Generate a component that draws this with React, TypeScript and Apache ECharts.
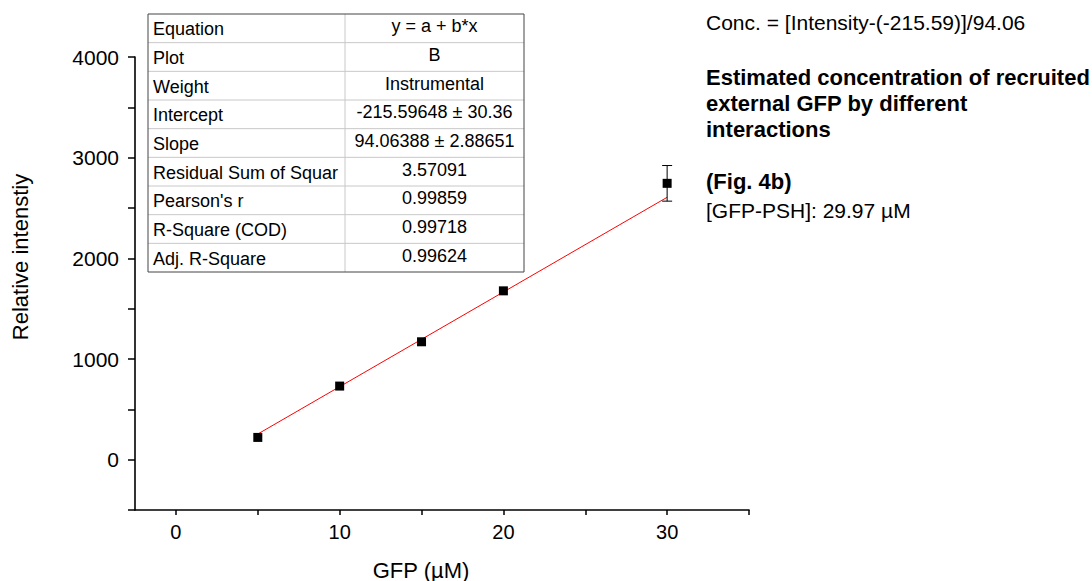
import React, { useEffect, useRef } from "react";
import * as echarts from "echarts";

const gfpConc = [5, 10, 15, 20, 30];
const intensity = [221, 731, 1171, 1677, 2745];
const intensityErr = [0, 0, 0, 0, 177];
const fitLine = [
  [5, 254.7],
  [30, 2606.3],
];
const xLabelValues = [0, 10, 20, 30];
const xTickValues = [0, 5, 10, 15, 20, 25, 30, 35];
const yLabelValues = [0, 1000, 2000, 3000, 4000];
const yTickValues = [-500, 0, 500, 1000, 1500, 2000, 2500, 3000, 3500, 4000];

const tableLabels = [
  "Equation",
  "Plot",
  "Weight",
  "Intercept",
  "Slope",
  "Residual Sum of Squar",
  "Pearson's r",
  "R-Square (COD)",
  "Adj. R-Square",
];
const tableValues = [
  "y = a + b*x",
  "B",
  "Instrumental",
  "-215.59648 ± 30.36",
  "94.06388 ± 2.88651",
  "3.57091",
  "0.99859",
  "0.99718",
  "0.99624",
];

const FONT = "'Liberation Sans', Arial, sans-serif";

export default function App() {
  const ref = useRef<HTMLDivElement>(null);

  useEffect(() => {
    document.body.style.margin = "0";
    if (!ref.current) return;
    const chart = echarts.init(ref.current, null, { renderer: "svg" });

    const tX = 148,
      tY = 14,
      tW = 376,
      tH = 258,
      colX = 345;
    const rowH = tH / tableLabels.length;
    const tableEls: any[] = [];
    for (let i = 1; i < tableLabels.length; i++) {
      tableEls.push({
        type: "line",
        shape: { x1: tX, y1: tY + i * rowH, x2: tX + tW, y2: tY + i * rowH },
        style: { stroke: "#c8c8c8", lineWidth: 1 },
      });
    }
    tableEls.push({
      type: "line",
      shape: { x1: colX, y1: tY, x2: colX, y2: tY + tH },
      style: { stroke: "#c8c8c8", lineWidth: 1 },
    });
    tableEls.push({
      type: "rect",
      shape: { x: tX, y: tY, width: tW, height: tH },
      style: { fill: "none", stroke: "#444", lineWidth: 1 },
    });
    tableLabels.forEach((lab, i) => {
      tableEls.push({
        type: "text",
        style: {
          text: lab,
          x: tX + 5,
          y: tY + i * rowH + rowH / 2 + 1,
          fontSize: 18,
          fontFamily: FONT,
          fill: "#000",
          align: "left",
          verticalAlign: "middle",
        },
      });
      tableEls.push({
        type: "text",
        style: {
          text: tableValues[i],
          x: (colX + tX + tW) / 2,
          y: tY + i * rowH + rowH / 2 - 2,
          fontSize: 18,
          fontFamily: FONT,
          fill: "#000",
          align: "center",
          verticalAlign: "middle",
        },
      });
    });

    const sideText = (text: string, y: number, bold = false) => ({
      type: "text",
      style: {
        text,
        x: 706,
        y,
        fontSize: bold ? 22 : 21,
        fontWeight: bold ? "bold" : "normal",
        fontFamily: FONT,
        fill: "#000",
        align: "left",
        verticalAlign: "middle",
      },
    });

    chart.setOption({
      animation: false,
      textStyle: { fontFamily: FONT },
      grid: { left: 135, top: 57, width: 614, height: 453, containLabel: false },
      xAxis: {
        type: "value",
        min: -2.5,
        max: 35,
        splitLine: { show: false },
        axisLine: { onZero: false, lineStyle: { color: "#000", width: 1.6 } },
        axisTick: { customValues: xTickValues, length: 5, lineStyle: { color: "#000", width: 1.5 } },
        axisLabel: {
          customValues: xLabelValues,
          formatter: (v: number) => String(v),
          fontSize: 20,
          color: "#000",
          margin: 12,
          fontFamily: FONT,
        },
      },
      yAxis: {
        type: "value",
        min: -500,
        max: 4000,
        interval: 500,
        splitLine: { show: false },
        axisLine: { show: true, onZero: false, lineStyle: { color: "#000", width: 1.6 } },
        axisTick: { show: true, customValues: yTickValues, length: 7, lineStyle: { color: "#000", width: 1.5 } },
        axisLabel: {
          customValues: yLabelValues,
          formatter: (v: number) => String(v),
          fontSize: 21,
          color: "#000",
          margin: 16,
          fontFamily: FONT,
        },
      },
      series: [
        {
          type: "line",
          data: fitLine,
          symbol: "none",
          lineStyle: { color: "#ff0000", width: 1 },
          z: 2,
        },
        {
          type: "custom",
          data: gfpConc.map((x, i) => [x, intensity[i] - intensityErr[i], intensity[i] + intensityErr[i], intensityErr[i]]),
          renderItem: (params: any, api: any) => {
            if (api.value(3) === 0) return null;
            const x = api.value(0);
            const top = api.coord([x, api.value(2)]);
            const bot = api.coord([x, api.value(1)]);
            const cap = 5;
            const st = { stroke: "#000", lineWidth: 1 };
            return {
              type: "group",
              children: [
                { type: "line", shape: { x1: top[0], y1: top[1], x2: bot[0], y2: bot[1] }, style: st },
                { type: "line", shape: { x1: top[0] - cap, y1: top[1], x2: top[0] + cap, y2: top[1] }, style: st },
                { type: "line", shape: { x1: bot[0] - cap, y1: bot[1], x2: bot[0] + cap, y2: bot[1] }, style: st },
              ],
            };
          },
          z: 3,
        },
        {
          type: "scatter",
          data: gfpConc.map((x, i) => [x, intensity[i]]),
          symbol: "rect",
          symbolSize: 9,
          itemStyle: { color: "#000", opacity: 1 },
          z: 4,
        },
      ],
      graphic: [
        ...tableEls,
        {
          type: "text",
          rotation: Math.PI / 2,
          x: 20,
          y: 257,
          style: {
            text: "Relative intenstiy",
            fontSize: 22,
            fontFamily: FONT,
            fill: "#000",
            align: "center",
            verticalAlign: "middle",
          },
        },
        {
          type: "text",
          style: {
            text: "GFP (µM)",
            x: 421,
            y: 570,
            fontSize: 22,
            fontFamily: FONT,
            fill: "#000",
            align: "center",
            verticalAlign: "middle",
          },
        },
        sideText("Conc. = [Intensity-(-215.59)]/94.06", 22),
        sideText("Estimated concentration of recruited", 77, true),
        sideText("external GFP by different", 103, true),
        sideText("interactions", 129, true),
        sideText("(Fig. 4b)", 181, true),
        sideText("[GFP-PSH]: 29.97 µM", 210),
      ],
    });

    return () => chart.dispose();
  }, []);

  return <div ref={ref} style={{ width: 1092, height: 581 }} />;
}
